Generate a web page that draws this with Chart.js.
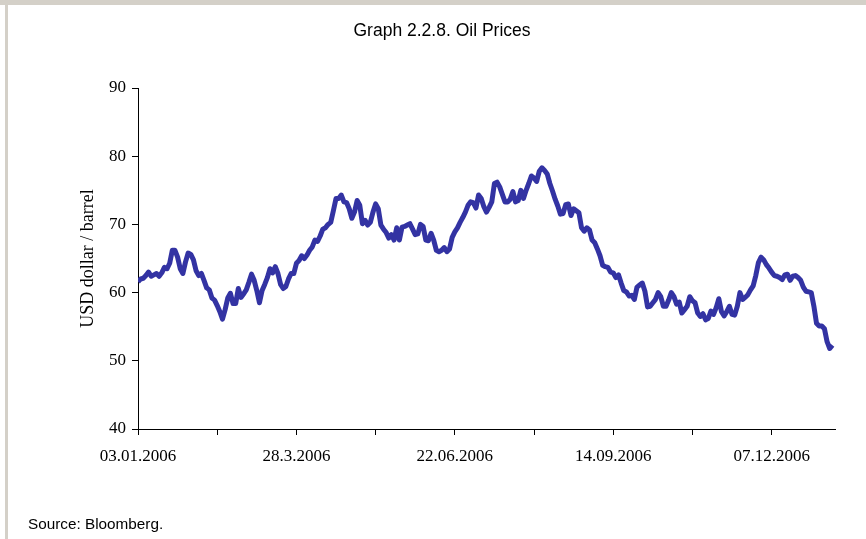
<!DOCTYPE html>
<html>
<head>
<meta charset="utf-8">
<title>Graph 2.2.8. Oil Prices</title>
<script src="https://cdn.jsdelivr.net/npm/chart.js@4.4.1/dist/chart.umd.min.js"></script>
<style>
  html, body { margin: 0; padding: 0; background: #fff; }
  #wrap { position: relative; width: 866px; height: 539px; overflow: hidden; background: #fff; }
  #frame-top { position: absolute; left: 0; top: 0; width: 866px; height: 5px; background: #d4d0c8; }
  #frame-left { position: absolute; left: 5px; top: 0; width: 3px; height: 539px; background: #d4d0c8; }
  #title {
    position: absolute; left: 0; top: 20px; width: 884px; text-align: center;
    font: 17.5px 'Liberation Sans', Arial, sans-serif; color: #000;
  }
  #source {
    position: absolute; left: 28px; top: 515px;
    font: 15.3px 'Liberation Sans', Arial, sans-serif; color: #000;
  }
  #oil-chart { position: absolute; left: 0; top: 0; }
</style>
</head>
<body>
<div id="wrap">
  <div id="frame-top"></div>
  <div id="frame-left"></div>
  <canvas id="oil-chart" width="866" height="539"></canvas>
  <div id="title">Graph 2.2.8. Oil Prices</div>
  <div id="source">Source: Bloomberg.</div>
</div>
<script>
// daily oil price, USD per barrel, trading days from 03.01.2006
const prices = [
  61.6, 62.0, 62.1, 62.5, 63.0, 62.4, 62.6, 62.8, 62.4, 62.9,
  63.7, 63.5, 64.3, 66.2, 66.2, 65.2, 63.5, 62.8, 64.5, 65.8,
  65.6, 64.8, 63.2, 62.5, 62.8, 61.8, 60.7, 60.4, 59.2, 58.9,
  58.1, 57.2, 56.1, 57.5, 59.2, 59.9, 58.4, 58.4, 60.6, 59.3,
  59.8, 60.4, 61.5, 62.7, 61.8, 60.3, 58.5, 60.3, 61.2, 62.2,
  63.5, 62.9, 63.8, 62.8, 61.2, 60.6, 60.9, 62.0, 62.8, 62.8,
  64.3, 64.7, 65.4, 65.0, 65.5, 66.2, 66.7, 67.7, 67.5, 68.3,
  69.3, 69.5, 70.0, 70.3, 72.0, 73.8, 73.8, 74.3, 73.3, 73.2,
  72.3, 70.9, 71.8, 73.5, 72.8, 70.1, 70.6, 69.9, 70.3, 71.8,
  73.0, 72.3, 69.9, 69.3, 68.8, 68.0, 68.5, 67.7, 69.5, 67.7,
  69.6, 69.7, 69.9, 70.1, 69.3, 68.5, 68.6, 70.0, 69.7, 67.7,
  67.6, 68.7, 67.7, 66.2, 66.0, 66.2, 66.6, 66.0, 66.4, 68.1,
  68.9, 69.5, 70.3, 71.0, 71.8, 72.8, 73.3, 73.2, 72.4, 74.3,
  73.8, 72.6, 71.8, 72.5, 73.3, 76.0, 76.2, 75.5, 74.4, 73.3,
  73.3, 73.7, 74.8, 73.3, 73.5, 75.0, 73.8, 75.0, 76.0, 77.1,
  76.8, 76.3, 77.8, 78.3, 77.9, 77.4, 76.0, 74.9, 73.7, 72.7,
  71.5, 71.6, 72.9, 73.0, 71.3, 72.3, 72.0, 71.7, 69.5, 69.0,
  69.5, 69.2, 67.7, 67.3, 66.4, 65.4, 64.0, 63.8, 63.7, 63.0,
  62.9, 62.2, 62.6, 61.4, 60.3, 60.1, 59.5, 59.6, 59.0, 60.8,
  61.1, 61.4, 60.2, 57.9, 58.0, 58.5, 59.0, 60.0, 59.4, 58.0,
  58.0, 58.9, 60.0, 59.4, 58.3, 58.6, 57.0, 57.5, 58.0, 59.4,
  58.8, 58.5, 57.0, 56.5, 56.9, 56.0, 56.2, 57.3, 56.8, 57.8,
  59.1, 57.2, 56.6, 57.2, 58.0, 56.8, 56.7, 58.0, 60.0, 59.0,
  59.3, 59.7, 60.4, 61.0, 62.5, 64.4, 65.2, 64.8, 64.1, 63.6,
  63.0, 62.5, 62.4, 62.2, 61.9, 62.6, 62.7, 61.8, 62.4, 62.5,
  62.2, 61.8, 60.8, 60.2, 60.1, 60.0, 58.0, 55.5, 55.1, 55.1,
  54.7, 52.8, 51.8, 52.3
]

// date labels, one every 60 trading days (every second tick mark)
const dateLabels = ['03.01.2006', '28.3.2006', '22.06.2006', '14.09.2006', '07.12.2006']
const tickEvery = 30
const labelEvery = 60

const yMin = 40
const yMax = 90
const yStep = 10

const LINE_COLOR = '#3333a3'
const serif = "'Liberation Serif', 'Times New Roman', serif"

const canvas = document.getElementById('oil-chart')

new Chart(canvas, {
  type: 'line',
  data: {
    datasets: [{
      label: 'Oil price',
      data: prices.map((v, i) => ({ x: i, y: v })),
      borderColor: LINE_COLOR,
      borderWidth: 5,
      borderJoinStyle: 'round',
      borderCapStyle: 'butt',
      pointRadius: 0,
      tension: 0,
      fill: false,
    }]
  },
  options: {
    responsive: false,
    devicePixelRatio: 1,
    animation: false,
    layout: { padding: { left: 77, top: 88, right: 31, bottom: 0 } },
    plugins: {
      legend: { display: false },
      tooltip: { enabled: false },
    },
    scales: {
      x: {
        type: 'linear',
        min: 0,
        max: prices.length,
        afterBuildTicks: (scale) => {
          scale.ticks = scale.ticks.filter(t => t.value % tickEvery === 0)
        },
        afterFit: (scale) => { scale.height = 110 },
        ticks: {
          stepSize: tickEvery,
          autoSkip: false,
          maxRotation: 0,
          padding: 11,
          color: '#000',
          font: { family: serif, size: 17 },
          callback: (v) => v % labelEvery === 0 ? (dateLabels[v / labelEvery] || '') : '',
        },
        grid: { drawOnChartArea: false, tickLength: 6, color: '#000', tickColor: '#000' },
        border: { color: '#000', width: 1 },
      },
      y: {
        min: yMin,
        max: yMax,
        afterFit: (scale) => { scale.width = 61 },
        ticks: {
          stepSize: yStep,
          padding: 6,
          color: '#000',
          font: { family: serif, size: 17 },
        },
        grid: { drawOnChartArea: false, tickLength: 6, color: '#000', tickColor: '#000' },
        border: { color: '#000', width: 1 },
        title: {
          display: true,
          text: 'USD dollar / barrel',
          color: '#000',
          padding: 0,
          font: { family: serif, size: 18 },
        },
      },
    },
  },
})
</script>
</body>
</html>
